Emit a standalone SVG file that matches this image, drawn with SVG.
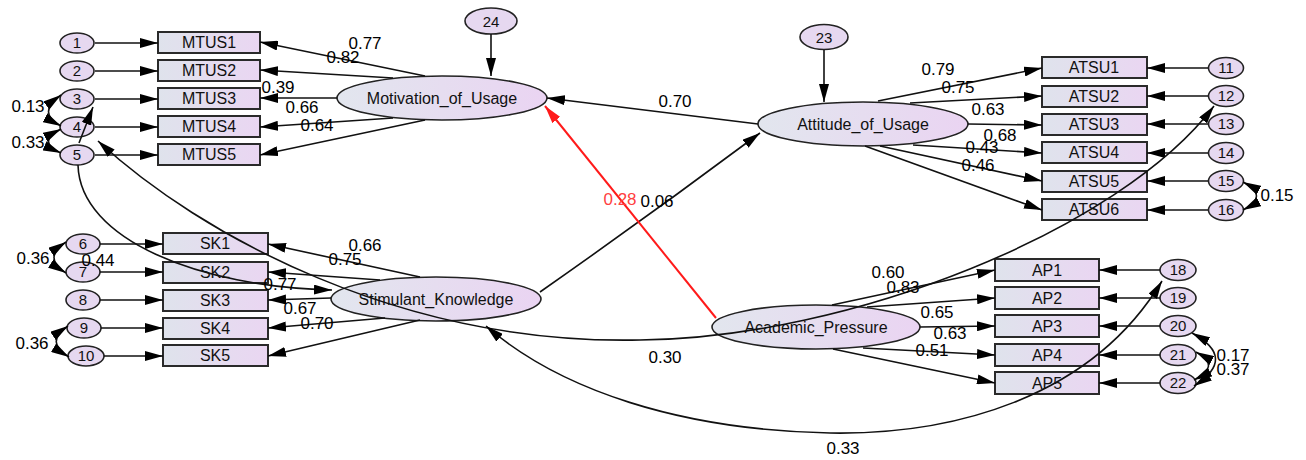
<svg xmlns="http://www.w3.org/2000/svg" width="1306" height="460" viewBox="0 0 1306 460">
<defs>
<linearGradient id="gb" x1="0" y1="0" x2="1" y2="0"><stop offset="0" stop-color="#dfe3ec"/><stop offset="1" stop-color="#ead6f2"/></linearGradient>
<linearGradient id="ge" x1="0" y1="0" x2="1" y2="0"><stop offset="0" stop-color="#e2e6ee"/><stop offset="1" stop-color="#ead4f2"/></linearGradient>
<marker id="ah" markerWidth="18" markerHeight="10" refX="18" refY="5" orient="auto-start-reverse" markerUnits="userSpaceOnUse"><path d="M0,0 L18,5 L0,10 z" fill="#000"/></marker>
<marker id="ahr" markerWidth="18" markerHeight="10" refX="18" refY="5" orient="auto" markerUnits="userSpaceOnUse"><path d="M0,0 L18,5 L0,10 z" fill="#ff1a1a"/></marker>
<style>
.box{fill:url(#gb);stroke:#2a2a2a;stroke-width:2}
.lat{fill:url(#ge);stroke:#222;stroke-width:1.6}
.err{fill:#e6d8f0;stroke:#222;stroke-width:1.6}
.t{font-family:"Liberation Sans",Arial,sans-serif;font-size:16px;fill:#111;text-anchor:middle}
.n{font-family:"Liberation Sans",Arial,sans-serif;font-size:15px;fill:#111;text-anchor:middle}
.l{font-family:"Liberation Sans",Arial,sans-serif;font-size:17px;fill:#000;text-anchor:middle}
.c line,.c path{stroke:#111;stroke-width:1.6;fill:none}
.a{marker-end:url(#ah)}
.d{marker-start:url(#ah);marker-end:url(#ah)}
</style>
</defs>
<rect width="1306" height="460" fill="#fff"/>

<g id="err1"><ellipse class="err" cx="77" cy="43" rx="17" ry="10"/><text class="n" x="77" y="48">1</text></g>
<g id="err2"><ellipse class="err" cx="77" cy="71" rx="17" ry="10"/><text class="n" x="77" y="76">2</text></g>
<g id="err3"><ellipse class="err" cx="77" cy="99" rx="17" ry="10"/><text class="n" x="77" y="104">3</text></g>
<g id="err4"><ellipse class="err" cx="77" cy="127" rx="17" ry="10"/><text class="n" x="77" y="132">4</text></g>
<g id="err5"><ellipse class="err" cx="77" cy="155" rx="17" ry="10"/><text class="n" x="77" y="160">5</text></g>
<g id="err6"><ellipse class="err" cx="83" cy="244" rx="17" ry="10"/><text class="n" x="83" y="249">6</text></g>
<g id="err7"><ellipse class="err" cx="83" cy="272" rx="17" ry="10"/><text class="n" x="83" y="277">7</text></g>
<g id="err8"><ellipse class="err" cx="83" cy="300" rx="17" ry="10"/><text class="n" x="83" y="305">8</text></g>
<g id="err9"><ellipse class="err" cx="84" cy="328" rx="17" ry="10"/><text class="n" x="84" y="333">9</text></g>
<g id="err10"><ellipse class="err" cx="86" cy="356" rx="18" ry="10"/><text class="n" x="86" y="361">10</text></g>
<g id="err11"><ellipse class="err" cx="1226" cy="68" rx="17.5" ry="10.5"/><text class="n" x="1226" y="73">11</text></g>
<g id="err12"><ellipse class="err" cx="1226" cy="96" rx="17.5" ry="10.5"/><text class="n" x="1226" y="101">12</text></g>
<g id="err13"><ellipse class="err" cx="1226" cy="124" rx="17.5" ry="10.5"/><text class="n" x="1226" y="129">13</text></g>
<g id="err14"><ellipse class="err" cx="1226" cy="153" rx="17.5" ry="10.5"/><text class="n" x="1226" y="158">14</text></g>
<g id="err15"><ellipse class="err" cx="1226" cy="181" rx="17.5" ry="10.5"/><text class="n" x="1226" y="186">15</text></g>
<g id="err16"><ellipse class="err" cx="1226" cy="210" rx="17.5" ry="10.5"/><text class="n" x="1226" y="215">16</text></g>
<g id="err18"><ellipse class="err" cx="1178" cy="270" rx="18" ry="10.5"/><text class="n" x="1178" y="275">18</text></g>
<g id="err19"><ellipse class="err" cx="1178" cy="298" rx="18" ry="10.5"/><text class="n" x="1178" y="303">19</text></g>
<g id="err20"><ellipse class="err" cx="1178" cy="326" rx="18" ry="10.5"/><text class="n" x="1178" y="331">20</text></g>
<g id="err21"><ellipse class="err" cx="1178" cy="355" rx="18" ry="10.5"/><text class="n" x="1178" y="360">21</text></g>
<g id="err22"><ellipse class="err" cx="1178" cy="383" rx="18" ry="10.5"/><text class="n" x="1178" y="388">22</text></g>
<g id="err23"><ellipse class="err" cx="824" cy="37" rx="24" ry="12.5"/><text class="n" x="824" y="43">23</text></g>
<g id="err24"><ellipse class="err" cx="491" cy="21" rx="26" ry="13"/><text class="n" x="491" y="27">24</text></g>

<g id="MTUS1"><rect class="box" x="158" y="32" width="102" height="21"/><text class="t" x="209" y="48">MTUS1</text></g>
<g id="MTUS2"><rect class="box" x="158" y="60" width="102" height="21"/><text class="t" x="209" y="76">MTUS2</text></g>
<g id="MTUS3"><rect class="box" x="158" y="88" width="102" height="21"/><text class="t" x="209" y="104">MTUS3</text></g>
<g id="MTUS4"><rect class="box" x="158" y="116" width="102" height="21"/><text class="t" x="209" y="132">MTUS4</text></g>
<g id="MTUS5"><rect class="box" x="158" y="144" width="102" height="21"/><text class="t" x="209" y="160">MTUS5</text></g>

<g id="SK1"><rect class="box" x="163" y="233" width="105" height="21"/><text class="t" x="215" y="249">SK1</text></g>
<g id="SK2"><rect class="box" x="163" y="262" width="105" height="21"/><text class="t" x="215" y="278">SK2</text></g>
<g id="SK3"><rect class="box" x="163" y="290" width="105" height="21"/><text class="t" x="215" y="306">SK3</text></g>
<g id="SK4"><rect class="box" x="163" y="318" width="105" height="21"/><text class="t" x="215" y="334">SK4</text></g>
<g id="SK5"><rect class="box" x="163" y="345" width="105" height="21"/><text class="t" x="215" y="361">SK5</text></g>

<g id="ATSU1"><rect class="box" x="1042" y="57" width="105" height="21"/><text class="t" x="1094" y="73">ATSU1</text></g>
<g id="ATSU2"><rect class="box" x="1042" y="86" width="105" height="21"/><text class="t" x="1094" y="102">ATSU2</text></g>
<g id="ATSU3"><rect class="box" x="1042" y="114" width="105" height="21"/><text class="t" x="1094" y="130">ATSU3</text></g>
<g id="ATSU4"><rect class="box" x="1042" y="142" width="105" height="21"/><text class="t" x="1094" y="158">ATSU4</text></g>
<g id="ATSU5"><rect class="box" x="1042" y="171" width="105" height="21"/><text class="t" x="1094" y="187">ATSU5</text></g>
<g id="ATSU6"><rect class="box" x="1042" y="199" width="105" height="21"/><text class="t" x="1094" y="215">ATSU6</text></g>

<g id="AP1"><rect class="box" x="995" y="259" width="104" height="22"/><text class="t" x="1047" y="276">AP1</text></g>
<g id="AP2"><rect class="box" x="995" y="287" width="104" height="22"/><text class="t" x="1047" y="304">AP2</text></g>
<g id="AP3"><rect class="box" x="995" y="315" width="104" height="22"/><text class="t" x="1047" y="332">AP3</text></g>
<g id="AP4"><rect class="box" x="995" y="344" width="104" height="22"/><text class="t" x="1047" y="361">AP4</text></g>
<g id="AP5"><rect class="box" x="995" y="372" width="104" height="22"/><text class="t" x="1047" y="389">AP5</text></g>

<g id="Motivation_of_Usage"><ellipse class="lat" cx="442" cy="98" rx="105" ry="22"/><text class="t" x="442" y="104">Motivation_of_Usage</text></g>
<g id="Attitude_of_Usage"><ellipse class="lat" cx="863" cy="124" rx="105" ry="22"/><text class="t" x="863" y="130">Attitude_of_Usage</text></g>
<g id="Stimulant_Knowledge"><ellipse class="lat" cx="436" cy="299" rx="105" ry="22"/><text class="t" x="436" y="305">Stimulant_Knowledge</text></g>
<g id="Academic_Pressure"><ellipse class="lat" cx="816" cy="327" rx="104" ry="22"/><text class="t" x="816" y="333">Academic_Pressure</text></g>

<g id="connectors" class="c">
<!-- errors to MTUS -->
<line class="a" x1="95" y1="43" x2="158" y2="43"/>
<line class="a" x1="95" y1="71" x2="158" y2="71"/>
<line class="a" x1="95" y1="99" x2="158" y2="99"/>
<line class="a" x1="95" y1="127" x2="158" y2="127"/>
<line class="a" x1="95" y1="155" x2="158" y2="155"/>
<!-- errors to SK -->
<line class="a" x1="100" y1="244" x2="163" y2="244"/>
<line class="a" x1="100" y1="272" x2="163" y2="272"/>
<line class="a" x1="100" y1="300" x2="163" y2="300"/>
<line class="a" x1="101" y1="328" x2="163" y2="328"/>
<line class="a" x1="104" y1="356" x2="163" y2="356"/>
<!-- errors to ATSU -->
<line class="a" x1="1208" y1="68" x2="1147" y2="68"/>
<line class="a" x1="1208" y1="96" x2="1147" y2="96"/>
<line class="a" x1="1208" y1="124" x2="1147" y2="124"/>
<line class="a" x1="1208" y1="153" x2="1147" y2="153"/>
<line class="a" x1="1208" y1="181" x2="1147" y2="181"/>
<line class="a" x1="1208" y1="210" x2="1147" y2="210"/>
<!-- errors to AP -->
<line class="a" x1="1160" y1="270" x2="1099" y2="270"/>
<line class="a" x1="1160" y1="298" x2="1099" y2="298"/>
<line class="a" x1="1160" y1="326" x2="1099" y2="326"/>
<line class="a" x1="1160" y1="355" x2="1099" y2="355"/>
<line class="a" x1="1160" y1="383" x2="1099" y2="383"/>
<!-- disturbances -->
<line class="a" x1="491" y1="34" x2="491" y2="76"/>
<line class="a" x1="824" y1="50" x2="824" y2="102"/>
<!-- Motivation loadings -->
<line class="a" x1="425" y1="76" x2="260" y2="42"/>
<line class="a" x1="393" y1="78" x2="260" y2="70"/>
<line class="a" x1="337" y1="98" x2="260" y2="98"/>
<line class="a" x1="393" y1="118" x2="260" y2="127"/>
<line class="a" x1="425" y1="120" x2="260" y2="155"/>
<!-- Attitude loadings -->
<line class="a" x1="878" y1="101" x2="1042" y2="68"/>
<line class="a" x1="910" y1="103" x2="1042" y2="96"/>
<line class="a" x1="968" y1="124" x2="1042" y2="125"/>
<line class="a" x1="913" y1="145" x2="1042" y2="153"/>
<line class="a" x1="880" y1="146" x2="1042" y2="181"/>
<line class="a" x1="865" y1="146" x2="1042" y2="210"/>
<!-- SK loadings -->
<line class="a" x1="420" y1="277" x2="268" y2="244"/>
<line class="a" x1="380" y1="280" x2="268" y2="272"/>
<line class="a" x1="331" y1="298" x2="268" y2="300"/>
<line class="a" x1="385" y1="318" x2="268" y2="328"/>
<line class="a" x1="420" y1="320" x2="268" y2="356"/>
<!-- AP loadings -->
<line class="a" x1="832" y1="305" x2="995" y2="270"/>
<line class="a" x1="867" y1="307" x2="995" y2="298"/>
<line class="a" x1="920" y1="327" x2="995" y2="326"/>
<line class="a" x1="863" y1="348" x2="995" y2="355"/>
<line class="a" x1="833" y1="349" x2="995" y2="383"/>
<!-- structural -->
<line class="a" x1="758" y1="124" x2="547" y2="98"/>
<path class="a" d="M540,292 Q650,215 760,133"/>
<line x1="716" y1="318" x2="545" y2="106" style="stroke:#ff1a1a;stroke-width:2;marker-end:url(#ahr)"/>
<!-- covariances left -->
<path class="d" d="M61,95 Q36,113 61,126"/>
<path class="d" d="M61,129 Q36,142 61,153"/>
<path class="d" d="M66,242 Q42,258 66,273"/>
<path class="d" d="M68,326 Q44,342 69,357"/>
<line class="a" x1="79" y1="143" x2="93" y2="107"/>
<!-- covariances right -->
<path class="d" d="M1243,182 Q1270,196 1243,210"/>
<path class="d" d="M1192,333 Q1238,358 1194,386"/>
<path class="d" d="M1196,352 Q1222,366 1194,380"/>
<!-- long curves -->
<path class="a" d="M78,165 C80,240 200,287 332,290"/>
<path class="d" d="M98,141 C200,235 400,345 640,340 C850,338 1120,230 1214,106"/>
<path class="d" d="M1162,281 C1090,400 950,435 830,433 C680,430 560,390 486,326"/>
</g>

<g id="labels">
<text class="l" x="365" y="49">0.77</text>
<text class="l" x="343" y="63">0.82</text>
<text class="l" x="278" y="93">0.39</text>
<text class="l" x="302" y="113">0.66</text>
<text class="l" x="317" y="131">0.64</text>
<text class="l" x="28" y="112">0.13</text>
<text class="l" x="28" y="148">0.33</text>
<text class="l" x="675" y="107">0.70</text>
<text class="l" x="938" y="75">0.79</text>
<text class="l" x="958" y="93">0.75</text>
<text class="l" x="988" y="115">0.63</text>
<text class="l" x="1000" y="141">0.68</text>
<text class="l" x="982" y="153">0.43</text>
<text class="l" x="978" y="171">0.46</text>
<text class="l" x="1277" y="201">0.15</text>
<text class="l" x="620" y="205" style="fill:#ff4040">0.28</text>
<text class="l" x="657" y="207">0.06</text>
<text class="l" x="33" y="264">0.36</text>
<text class="l" x="98" y="266">0.44</text>
<text class="l" x="365" y="251">0.66</text>
<text class="l" x="345" y="265">0.75</text>
<text class="l" x="280" y="290">0.77</text>
<text class="l" x="300" y="314">0.67</text>
<text class="l" x="317" y="329">0.70</text>
<text class="l" x="32" y="349">0.36</text>
<text class="l" x="888" y="278">0.60</text>
<text class="l" x="903" y="293">0.83</text>
<text class="l" x="937" y="318">0.65</text>
<text class="l" x="950" y="339">0.63</text>
<text class="l" x="932" y="356">0.51</text>
<text class="l" x="665" y="363">0.30</text>
<text class="l" x="1233" y="361">0.17</text>
<text class="l" x="1233" y="375">0.37</text>
<text class="l" x="843" y="454">0.33</text>
</g>
</svg>
